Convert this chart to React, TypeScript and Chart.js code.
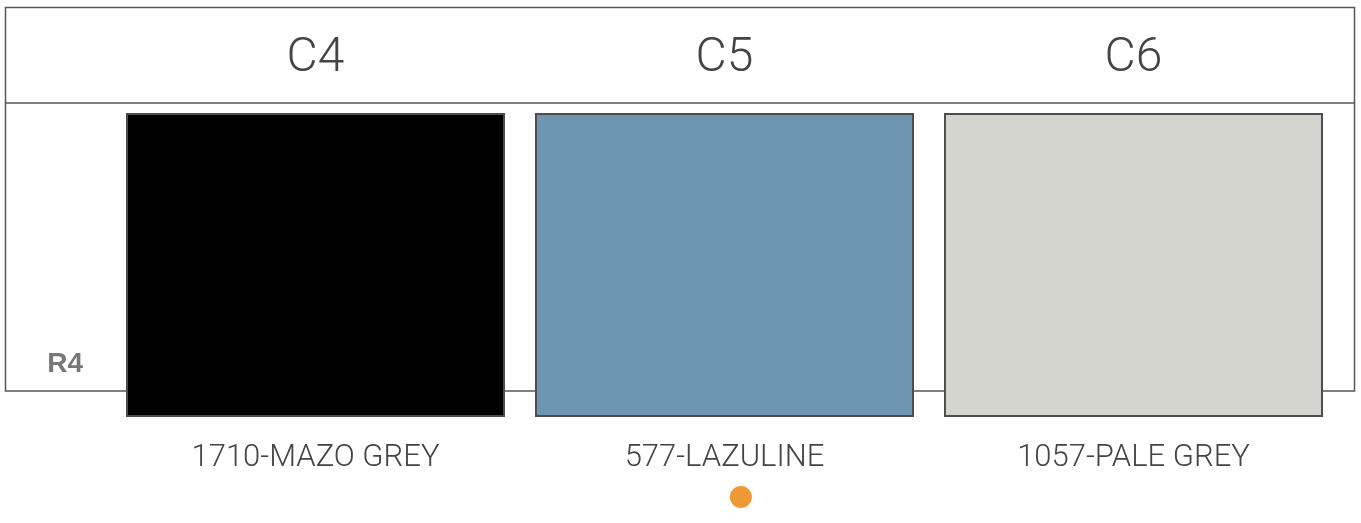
import React, { useEffect, useRef } from 'react';
import { Chart, registerables } from 'chart.js';

Chart.register(...registerables);

const columns = ['C4', 'C5', 'C6'];
const colorNames = ['1710-MAZO GREY', '577-LAZULINE', '1057-PALE GREY'];
const swatchColors = ['#000000', '#6d95b0', '#d4d5cf'];
const swatchRange: [number, number][] = [[0, 1], [0, 1], [0, 1]];
const rowLabels = ['R4'];
const rowLabelValue = 0.174;
const selectedMarker = [{ x: 1.04, y: -0.263 }];

const framePlugin = {
  id: 'frame',
  beforeDraw(chart: any) {
    const ctx = chart.ctx;
    ctx.save();
    ctx.strokeStyle = '#555555';
    ctx.lineWidth = 1.5;
    ctx.strokeRect(5.5, 7.5, 1349, 383.5);
    ctx.beginPath();
    ctx.moveTo(5.5, 103);
    ctx.lineTo(1354.5, 103);
    ctx.stroke();
    ctx.restore();
  },
};

export default function App() {
  const ref = useRef<HTMLCanvasElement | null>(null);

  useEffect(() => {
    if (!ref.current) return;
    const chart = new Chart(ref.current, {
      type: 'bar',
      data: {
        labels: columns,
        datasets: [
          {
            type: 'bar',
            data: swatchRange as any,
            backgroundColor: swatchColors,
            borderColor: '#4d4d4d',
            borderWidth: 2,
            borderSkipped: false,
            barPercentage: 0.9267,
            categoryPercentage: 1,
            grouped: false,
            xAxisID: 'x',
            yAxisID: 'y',
          } as any,
          {
            type: 'scatter',
            data: selectedMarker,
            backgroundColor: '#ef9935',
            pointBackgroundColor: '#ef9935',
            borderWidth: 0,
            pointBorderWidth: 0,
            pointRadius: 11,
            pointHoverRadius: 11,
            xAxisID: 'xDot',
            yAxisID: 'y',
            clip: false,
          } as any,
        ],
      },
      options: {
        responsive: false,
        animation: false,
        layout: { autoPadding: false, padding: { left: 0, right: 23, top: 0, bottom: 0 } },
        plugins: { legend: { display: false }, tooltip: { enabled: false } },
        scales: {
          x: {
            type: 'category',
            position: 'bottom',
            grid: { display: false, drawTicks: false },
            border: { display: false },
            ticks: {
              callback: (_v: any, i: number) => colorNames[i],
              color: '#444444',
              font: { family: 'Roboto', size: 31, weight: '300' },
              mirror: true,
              padding: 46,
              maxRotation: 0,
              autoSkip: false,
            },
            afterFit: (s: any) => { s.height = 0; },
          },
          xTop: {
            type: 'category',
            labels: columns,
            position: 'top',
            grid: { display: false, drawTicks: false },
            border: { display: false },
            ticks: {
              color: '#444444',
              font: { family: 'Roboto', size: 48, weight: '300' },
              padding: 25,
              maxRotation: 0,
              autoSkip: false,
            },
            afterFit: (s: any) => { s.height = 113; },
          },
          xDot: {
            type: 'linear',
            display: false,
            offset: false,
            bounds: 'data',
            min: -0.5,
            max: 2.5,
          },
          y: {
            type: 'linear',
            position: 'left',
            bounds: 'data',
            min: -0.3487,
            max: 1,
            grid: { display: false, drawTicks: false },
            border: { display: false },
            afterBuildTicks: (s: any) => { s.ticks = [{ value: rowLabelValue }]; },
            ticks: {
              callback: () => rowLabels[0],
              color: '#777777',
              font: { family: 'Liberation Sans', size: 28, weight: 'bold' },
              padding: 28,
            },
            afterFit: (s: any) => {
              s.width = 111;
              s.paddingTop = 0;
              s.paddingBottom = 0;
            },
          },
        } as any,
      },
      plugins: [framePlugin],
    });
    return () => chart.destroy();
  }, []);

  return (
    <div style={{ position: 'absolute', left: 0, top: 0, width: 1361, height: 523, background: '#ffffff' }}>
      <canvas ref={ref} width={1361} height={523} style={{ display: 'block' }} />
    </div>
  );
}
